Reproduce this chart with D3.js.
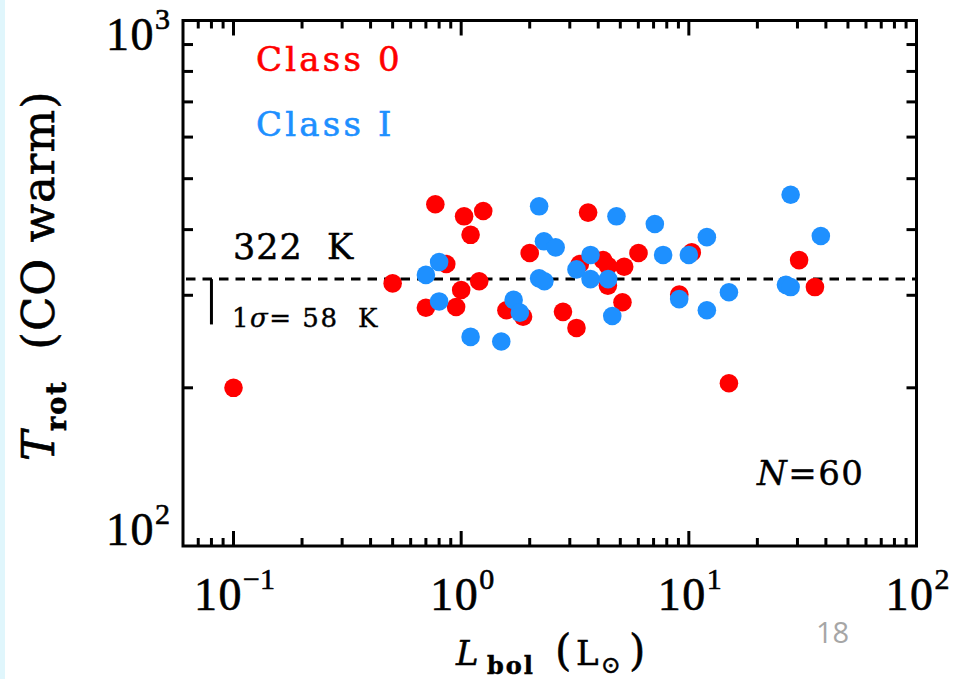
<!DOCTYPE html>
<html>
<head>
<meta charset="utf-8">
<script src="https://cdn.jsdelivr.net/npm/d3@7"></script>
<style>
    html, body { margin: 0; padding: 0; background: #fff; }
    svg { display: block; }
</style>
</head>
<body>
<svg width="957" height="679"></svg>
<script>
// L_bol (Lsun) and T_rot (K)
var class0L = [0.10, 0.77, 1.03, 1.25, 1.10, 0.86, 0.50, 1.20, 1.00, 0.95, 0.70, 1.58, 1.87, 2.00, 3.61,
    3.32, 4.20, 4.42, 5.20, 6.01, 4.41, 5.11, 2.80, 3.21, 9.08, 10.3, 30.5, 35.8, 15.0];
var class0T = [200, 447, 424, 434, 391, 344, 316, 319, 307, 285, 284, 281, 273, 361, 431,
    344, 350, 341, 340, 361, 313, 291, 279, 260, 301, 362, 350, 311, 204];
var class1L = [0.80, 0.70, 0.80, 1.10, 1.50, 1.70, 1.81, 2.20, 2.31, 2.60, 3.70, 3.21, 2.20, 2.32, 3.70,
    4.42, 4.81, 7.09, 7.71, 4.61, 9.07, 10.0, 12.0, 28.0, 38.0, 26.7, 28.0, 12.0, 15.0];
var class1T = [347, 328, 292, 250, 245, 294, 278, 443, 380, 370, 358, 336, 323, 319, 322,
    322, 424, 410, 358, 274, 295, 358, 387, 466, 389, 314, 311, 281, 304];

var xTickValues = [0.1, 1, 10, 100],
    xTickExps = ["\u22121", "0", "1", "2"];
var yTickValues = [100, 1000],
    yTickExps = ["2", "3"];

var meanT = 322, sigmaT = 58, sigmaL = 0.08, nSources = 60;
var classNames = ["Class 0", "Class I"],
    classColors = ["#ff0000", "#1e90ff"];

var svg = d3.select("svg"),
    width = +svg.attr("width"),
    height = +svg.attr("height");

var x = d3.scaleLog().domain([0.06, 100]).range([183, 916.5]),
    y = d3.scaleLog().domain([100, 1000]).range([546, 20.5]);

var x0 = x.range()[0], x1 = x.range()[1],
    yb = y.range()[0], yt = y.range()[1];

// slide edge
svg.append("rect").attr("x", 0).attr("y", 0).attr("width", 5).attr("height", height).attr("fill", "#e0f6fc");

function isMajor(v) {
    return Math.abs(Math.log10(v) - Math.round(Math.log10(v))) < 1e-6;
}

var xTicks = x.ticks().filter(function (v) {
    return x(v) > x0 + 1 && x(v) < x1 - 1;
});
var yTicks = y.ticks().filter(function (v) {
    return v > 100 && v < 1000;
});

var ticks = svg.append("g").attr("stroke", "#000").attr("stroke-width", 3);

xTicks.forEach(function (v) {
    var len = isMajor(v) ? 15 : 8;
    ticks.append("line").attr("x1", x(v)).attr("x2", x(v)).attr("y1", yb).attr("y2", yb - len);
    ticks.append("line").attr("x1", x(v)).attr("x2", x(v)).attr("y1", yt).attr("y2", yt + len);
});
yTicks.forEach(function (v) {
    ticks.append("line").attr("x1", x0).attr("x2", x0 + 10).attr("y1", y(v)).attr("y2", y(v));
    ticks.append("line").attr("x1", x1).attr("x2", x1 - 10).attr("y1", y(v)).attr("y2", y(v));
});

svg.append("rect")
    .attr("x", x0).attr("y", yt)
    .attr("width", x1 - x0).attr("height", yb - yt)
    .attr("fill", "none").attr("stroke", "#000").attr("stroke-width", 3);

// tick labels
function powerLabel(t, exp) {
    t.attr("font-family", "Liberation Serif").attr("font-size", 46)
        .attr("stroke", "#000").attr("stroke-width", 0.6);
    t.append("tspan").attr("letter-spacing", 1.5).text("10");
    t.append("tspan").attr("font-size", 30).attr("dy", -21).text(exp);
}
xTickValues.forEach(function (v, i) {
    var t = svg.append("text")
        .attr("x", x(v) + 1).attr("y", 610)
        .attr("text-anchor", "middle");
    powerLabel(t, xTickExps[i]);
});
yTickValues.forEach(function (v, i) {
    var t = svg.append("text")
        .attr("x", 170).attr("y", i == 0 ? y(v) - 1 : y(v) + 29.5)
        .attr("text-anchor", "end");
    powerLabel(t, yTickExps[i]);
});

// mean line and 1 sigma bar
svg.append("line")
    .attr("x1", x0).attr("x2", x1)
    .attr("y1", y(meanT)).attr("y2", y(meanT))
    .attr("stroke", "#000").attr("stroke-width", 3)
    .attr("stroke-dasharray", "9.5,7").attr("stroke-dashoffset", -3);
svg.append("line")
    .attr("x1", x(sigmaL)).attr("x2", x(sigmaL))
    .attr("y1", y(meanT)).attr("y2", y(meanT - sigmaT))
    .attr("stroke", "#000").attr("stroke-width", 3);

// points, Class 0 first so Class I sits on top
var series = [
    {L: class0L, T: class0T, color: classColors[0]},
    {L: class1L, T: class1T, color: classColors[1]}
];
series.forEach(function (s) {
    svg.append("g").selectAll("circle")
        .data(d3.range(s.L.length))
        .enter().append("circle")
        .attr("cx", function (i) {
            return x(s.L[i]);
        })
        .attr("cy", function (i) {
            return y(s.T[i]);
        })
        .attr("r", 9.3)
        .attr("fill", s.color);
});

// annotations
var serif = "DejaVu Serif";
classNames.forEach(function (name, i) {
    svg.append("text")
        .attr("x", 256).attr("y", 71 + i * 65)
        .attr("font-family", serif).attr("font-size", 34)
        .attr("letter-spacing", 3.2)
        .attr("fill", classColors[i])
        .attr("stroke", classColors[i]).attr("stroke-width", 0.6)
        .text(name);
});

svg.append("text")
    .attr("x", 233).attr("y", 259)
    .attr("font-family", serif).attr("font-size", 35)
    .attr("letter-spacing", 1)
    .attr("stroke", "#000").attr("stroke-width", 0.5)
    .attr("xml:space", "preserve")
    .text(meanT + "  K");

var sig = svg.append("text")
    .attr("x", 232).attr("y", 327)
    .attr("font-family", serif).attr("font-size", 26)
    .attr("letter-spacing", 1.5)
    .attr("stroke", "#000").attr("stroke-width", 0.4)
    .attr("xml:space", "preserve");
sig.append("tspan").text("1");
sig.append("tspan").attr("font-style", "italic").text("\u03c3");
sig.append("tspan").text("= " + sigmaT + "  K");

var nt = svg.append("text")
    .attr("x", 757).attr("y", 485)
    .attr("font-family", serif).attr("font-size", 34)
    .attr("letter-spacing", 1.5)
    .attr("stroke", "#000").attr("stroke-width", 0.4);
nt.append("tspan").attr("font-style", "italic").text("N");
nt.append("tspan").text("=" + nSources);

// axis titles
var xt = svg.append("text")
    .attr("y", 665)
    .attr("font-family", serif).attr("font-size", 34)
    .attr("stroke", "#000").attr("stroke-width", 0.5);
xt.append("tspan").attr("x", 456).attr("font-style", "italic").text("L");
xt.append("tspan").attr("x", 487).attr("font-weight", "bold").attr("font-size", 24)
    .attr("letter-spacing", 2).attr("dy", 9).text("bol");
xt.append("tspan").attr("x", 555).attr("dy", -9).attr("font-size", 42).text("(");
xt.append("tspan").attr("x", 576).text("L");
xt.append("tspan").attr("x", 601).attr("font-size", 24).attr("dy", 8).text("\u2299");
xt.append("tspan").attr("x", 629).attr("font-size", 42).attr("dy", -8).text(")");

var yt2 = svg.append("text")
    .attr("transform", "translate(54,461) rotate(-90)")
    .attr("font-family", serif).attr("font-size", 45)
    .attr("stroke", "#000").attr("stroke-width", 0.6)
    .attr("xml:space", "preserve");
yt2.append("tspan").attr("font-style", "italic").text("T");
yt2.append("tspan").attr("font-weight", "bold").attr("font-size", 27).attr("letter-spacing", 2).attr("dy", 12).text("rot");
yt2.append("tspan").attr("dy", -12).attr("letter-spacing", 1).text("  (CO warm)");

// slide number
svg.append("text")
    .attr("x", 816).attr("y", 643)
    .attr("font-family", "Open Sans").attr("font-size", 29)
    .attr("fill", "#a6a6a6")
    .text("18");
</script>
</body>
</html>
